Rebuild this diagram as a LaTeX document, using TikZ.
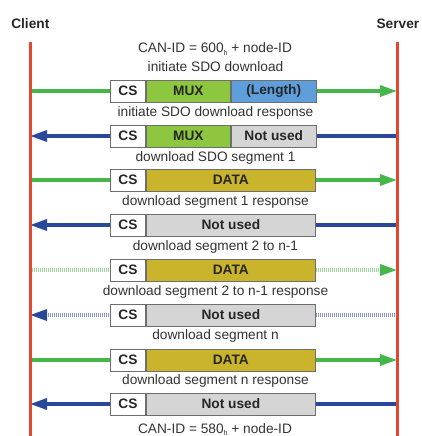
\documentclass[tikz,border=0pt]{standalone}
\usepackage{fontspec}
\setmainfont{Liberation Sans}
\usetikzlibrary{arrows.meta}

\definecolor{lifered}{HTML}{E4452F}
\definecolor{reqgreen}{HTML}{46B54A}
\definecolor{resblue}{HTML}{29489A}
\definecolor{reqgreenlt}{HTML}{9CD99E}
\definecolor{resbluelt}{HTML}{8797C6}
\definecolor{muxgreen}{HTML}{8DC63F}
\definecolor{lenblue}{HTML}{5E9EDB}
\definecolor{datagold}{HTML}{C9B42B}
\definecolor{unusedgray}{HTML}{D5D5D5}
\definecolor{framegray}{HTML}{6E6E6E}
\definecolor{txtgray}{HTML}{333333}

\newcommand{\hsub}{\raisebox{-2.5bp}{\fontsize{7bp}{7bp}\selectfont h}}

\begin{document}
\begin{tikzpicture}[x=1bp,y=-1bp,
  basefont/.style={font=\fontsize{13.7bp}{16bp}\selectfont},
  basefont,
  party/.style={font=\fontsize{13.7bp}{16bp}\selectfont\bfseries, text=black!85, anchor=base, inner sep=0pt},
  lifeline/.style={draw=lifered, line width=3bp},
  field/.style={draw=framegray, line width=0.9bp, minimum height=22bp, inner sep=0pt,
    font=\fontsize{13.7bp}{16bp}\selectfont\bfseries, text=black!85, anchor=west},
  csfield/.style={field, fill=white, minimum width=35bp},
  muxfield/.style={field, fill=muxgreen, minimum width=84bp},
  lenfield/.style={field, fill=lenblue, minimum width=85bp},
  unusedhalf/.style={field, fill=unusedgray, minimum width=85bp},
  datafield/.style={field, fill=datagold, minimum width=169bp},
  unusedfull/.style={field, fill=unusedgray, minimum width=169bp},
  msglabel/.style={text=txtgray, anchor=base, inner sep=0pt},
  toserver/.style={draw=reqgreen, line width=3.2bp, -{Triangle[length=17bp,width=11bp]}},
  toclient/.style={draw=resblue, line width=3.2bp, -{Triangle[length=17bp,width=11bp]}},
  toserverdots/.style={draw=reqgreenlt, line width=3.2bp, dash pattern=on 1.1bp off 0.9bp,
    -{Triangle[length=17bp,width=11bp,color=reqgreen]}},
  toclientdots/.style={draw=resbluelt, line width=3.2bp, dash pattern=on 1.1bp off 0.9bp,
    -{Triangle[length=17bp,width=11bp,color=resblue]}},
]
\useasboundingbox (0,0) rectangle (421,436);

% participants
\node[party] (client) at (30.3,29) {Client};
\node[party] (server) at (397.9,29) {Server};
\coordinate (ctop) at (30,42);
\coordinate (cbot) at (30,436);
\coordinate (stop) at (397,42);
\coordinate (sbot) at (397,436);

% end points of the messages on the two lifelines
\foreach \i/\y in {1/91,2/136,3/180,4/225,5/270,6/315,7/360,8/404}{
  \coordinate (c\i) at (30,\y);
  \coordinate (s\i) at (397,\y);
}

% messages (drawn first so that the frames cover them)
\draw[toserver] (c1) -- (s1);
\draw[toclient] (s2) -- (c2);
\draw[toserver] (c3) -- (s3);
\draw[toclient] (s4) -- (c4);
\draw[toserverdots] (c5) -- (s5);
\draw[toclientdots] (s6) -- (c6);
\draw[toserver] (c7) -- (s7);
\draw[toclient] (s8) -- (c8);

% lifelines
\draw[lifeline] (ctop) -- (cbot);
\draw[lifeline] (stop) -- (sbot);

% frames
\node[csfield] (cs1) at (110,91) {CS};
\node[muxfield] (mux1) at (cs1.east) {MUX};
\node[lenfield] (len1) at (mux1.east) {(Length)};

\node[csfield] (cs2) at (110,136) {CS};
\node[muxfield] (mux2) at (cs2.east) {MUX};
\node[unusedhalf] (nu2) at (mux2.east) {Not used};

\node[csfield] (cs3) at (110,180) {CS};
\node[datafield] (data3) at (cs3.east) {DATA};

\node[csfield] (cs4) at (110,225) {CS};
\node[unusedfull] (nu4) at (cs4.east) {Not used};

\node[csfield] (cs5) at (110,270) {CS};
\node[datafield] (data5) at (cs5.east) {DATA};

\node[csfield] (cs6) at (110,315) {CS};
\node[unusedfull] (nu6) at (cs6.east) {Not used};

\node[csfield] (cs7) at (110,360) {CS};
\node[datafield] (data7) at (cs7.east) {DATA};

\node[csfield] (cs8) at (110,404) {CS};
\node[unusedfull] (nu8) at (cs8.east) {Not used};

% message texts
\node[msglabel] (idreq) at (215,53) {CAN-ID = 600\hsub{} + node-ID};
\node[msglabel] (l1) at (215.5,72) {initiate SDO download};
\node[msglabel] (l2) at (215.5,116.5) {initiate SDO download response};
\node[msglabel] (l3) at (215.5,161.5) {download SDO segment 1};
\node[msglabel] (l4) at (215.5,205.5) {download segment 1 response};
\node[msglabel] (l5) at (215.5,250.5) {download segment 2 to n-1};
\node[msglabel] (l6) at (215.5,295) {download segment 2 to n-1 response};
\node[msglabel] (l7) at (215.5,339.5) {download segment n};
\node[msglabel] (l8) at (215.5,384.5) {download segment n response};
\node[msglabel] (idres) at (215,433) {CAN-ID = 580\hsub{} + node-ID};
\end{tikzpicture}
\end{document}
